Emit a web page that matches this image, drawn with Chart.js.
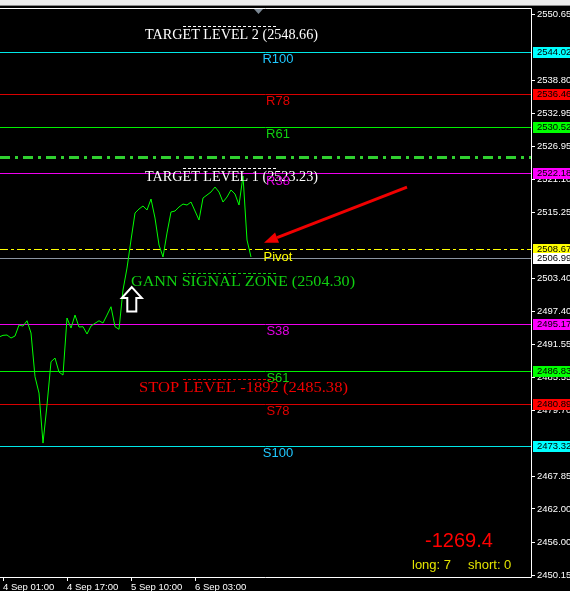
<!DOCTYPE html>
<html>
<head>
<meta charset="utf-8">
<script src="https://cdn.jsdelivr.net/npm/chart.js@4.4.1/dist/chart.umd.min.js"></script>
<style>
    html, body { margin: 0; padding: 0; background: #000; overflow: hidden; }
</style>
</head>
<body>
<canvas id="goldChart" width="570" height="591"></canvas>
<script>
// close price per H1 bar (bar 0 sits just left of the chart edge)
const prices = [
    2492.84, 2493.14, 2493.20, 2492.66, 2493.02, 2494.99, 2494.80, 2495.76,
    2493.56, 2485.72, 2482.79, 2473.82, 2480.64, 2488.41, 2489.07, 2486.56,
    2486.02, 2496.25, 2494.45, 2496.78, 2494.63, 2494.69, 2493.38, 2494.81,
    2495.30, 2495.76, 2495.35, 2496.78, 2498.27, 2494.69, 2494.22, 2501.27,
    2505.21, 2510.24, 2515.08, 2515.80, 2516.34, 2515.62, 2517.59, 2514.18,
    2509.34, 2507.19, 2511.49, 2515.26, 2515.44, 2516.16, 2516.69, 2516.51,
    2517.05, 2515.44, 2513.82, 2517.77, 2518.31, 2518.85, 2519.74, 2518.85,
    2517.05, 2517.95, 2519.21, 2518.49, 2516.51, 2521.72, 2510.24, 2507.19
];

const timeTicks = [1, 17, 33, 49];
const timeLabels = ['4 Sep 01:00', '4 Sep 17:00', '5 Sep 10:00', '6 Sep 03:00'];

const priceTicks = [2550.65, 2538.80, 2532.95, 2526.95, 2521.10, 2515.25, 2503.40,
    2497.40, 2491.55, 2485.55, 2479.70, 2467.85, 2462.00, 2456.00, 2450.15];

// gann levels
const levelNames = ['R100', 'R78', 'R61', 'R38', 'Pivot', '', 'S38', 'S61', 'S78', 'S100'];
const levelValues = [2544.02, 2536.46, 2530.52, 2522.18, 2508.67, 2506.99, 2495.17, 2486.83, 2480.89, 2473.32];

const zoneNames = ['TARGET LEVEL 2 (2548.66)', 'TARGET LEVEL 1 (2523.23)', 'GANN SIGNAL ZONE (2504.30)', 'STOP LEVEL -1892 (2485.38)'];
const zoneValues = [2548.66, 2523.23, 2504.30, 2485.38];

const signalLevel = 2525.18;
const profitText = '-1269.4';
const longCount = 7;
const shortCount = 0;

// arrows: [bar, price]
const upArrowAt = [33.2, 2501.8];
const redArrowFrom = [102, 2519.74];
const redArrowTo = [66.25, 2509.75];

// colours
const levelLineColors = ['#00e8e8', '#d80000', '#00f000', '#f000f0', '#ffff00', '#8a94a0', '#f000f0', '#00f000', '#d80000', '#00e8e8'];
const levelTextColors = ['#20c8ff', '#e00000', '#10d010', '#e000e0', '#ffff00', '', '#e000e0', '#10d010', '#e00000', '#20c8ff'];
const levelBoxColors = ['#00ffff', '#ff0000', '#00ff00', '#ff00ff', '#ffff00', '#ffffff', '#ff00ff', '#00ff00', '#ff0000', '#00ffff'];
const zoneColors = ['#ffffff', '#ffffff', '#10d010', '#f00000'];
const zoneTextX = [145, 145, 131, 139];
const zoneTextW = [173, 173, 224, 209];

const SANS = '"Liberation Sans", Arial, sans-serif';
const SERIF = '"Liberation Serif", "DejaVu Serif", serif';

const gannPlugin = {
    id: 'gann',
    beforeDraw(chart) {
        const c = chart.ctx;
        c.save();
        c.fillStyle = '#000';
        c.fillRect(0, 0, chart.width, chart.height);
        // window strip on top
        c.fillStyle = '#ececec';
        c.fillRect(0, 0, chart.width, 5);
        c.fillStyle = '#8c8c8c';
        c.fillRect(0, 5, chart.width, 1);
        c.restore();
    },
    beforeDatasetsDraw(chart) {
        const c = chart.ctx, a = chart.chartArea, ys = chart.scales.y;
        c.save();
        c.beginPath();
        c.rect(a.left, a.top, a.right - a.left, a.bottom - a.top);
        c.clip();

        // dash-dot signal line
        let y = Math.round(ys.getPixelForValue(signalLevel)) + 0.5;
        c.strokeStyle = '#30d030';
        c.lineWidth = 3;
        c.setLineDash([10, 5, 3, 5]);
        c.beginPath(); c.moveTo(a.left, y); c.lineTo(a.right, y); c.stroke();

        c.lineWidth = 1;
        levelValues.forEach((v, i) => {
            y = Math.round(ys.getPixelForValue(v)) + 0.5;
            c.strokeStyle = levelLineColors[i];
            c.setLineDash(i === 4 ? [8, 3, 3, 3] : []);
            c.beginPath(); c.moveTo(a.left, y); c.lineTo(a.right, y); c.stroke();
        });
        c.restore();
    },
    afterDatasetsDraw(chart) {
        const c = chart.ctx, a = chart.chartArea, ys = chart.scales.y, xs = chart.scales.x;
        c.save();

        // zone captions with dotted marker line
        zoneValues.forEach((v, i) => {
            const y = Math.round(ys.getPixelForValue(v)) + 0.5;
            c.strokeStyle = zoneColors[i];
            c.lineWidth = 1;
            c.setLineDash([3, 2]);
            c.beginPath(); c.moveTo(183, y); c.lineTo(277, y); c.stroke();
            c.setLineDash([]);
            c.font = '15px ' + SERIF;
            c.fillStyle = zoneColors[i];
            c.textAlign = 'left';
            c.textBaseline = 'alphabetic';
            // stretch the caption to the width it has in the terminal font
            const k = zoneTextW[i] / c.measureText(zoneNames[i]).width;
            c.save();
            c.translate(zoneTextX[i], y + 12.5);
            c.scale(k, 1);
            c.fillText(zoneNames[i], 0, 0);
            c.restore();
        });

        // level names
        c.font = '13px ' + SANS;
        c.textAlign = 'center';
        c.textBaseline = 'middle';
        levelValues.forEach((v, i) => {
            if (!levelNames[i]) return;
            const y = ys.getPixelForValue(v);
            c.fillStyle = levelTextColors[i];
            c.fillText(levelNames[i], 278, y + (i === 4 ? 8.5 : 7.5));
        });

        // white up arrow
        const ux = xs.getPixelForValue(upArrowAt[0]);
        const uy = ys.getPixelForValue(upArrowAt[1]);
        c.beginPath();
        c.moveTo(ux, uy);
        c.lineTo(ux + 10, uy + 11);
        c.lineTo(ux + 4.5, uy + 11);
        c.lineTo(ux + 4.5, uy + 24.5);
        c.lineTo(ux - 4.5, uy + 24.5);
        c.lineTo(ux - 4.5, uy + 11);
        c.lineTo(ux - 10, uy + 11);
        c.closePath();
        c.fillStyle = '#000';
        c.fill();
        c.strokeStyle = '#ffffff';
        c.lineWidth = 2;
        c.stroke();

        // red pointer arrow
        const x1 = xs.getPixelForValue(redArrowFrom[0]), y1 = ys.getPixelForValue(redArrowFrom[1]);
        const x2 = xs.getPixelForValue(redArrowTo[0]), y2 = ys.getPixelForValue(redArrowTo[1]);
        const ang = Math.atan2(y2 - y1, x2 - x1);
        const hx = x2 - 14 * Math.cos(ang), hy = y2 - 14 * Math.sin(ang);
        c.strokeStyle = '#f00000';
        c.fillStyle = '#f00000';
        c.lineWidth = 3;
        c.beginPath(); c.moveTo(x1, y1); c.lineTo(hx, hy); c.stroke();
        c.beginPath();
        c.moveTo(x2, y2);
        c.lineTo(hx + 5.5 * Math.sin(ang), hy - 5.5 * Math.cos(ang));
        c.lineTo(hx - 5.5 * Math.sin(ang), hy + 5.5 * Math.cos(ang));
        c.closePath();
        c.fill();

        c.restore();
    },
    afterDraw(chart) {
        const c = chart.ctx, a = chart.chartArea, ys = chart.scales.y;
        c.save();

        // frame
        c.strokeStyle = '#ffffff';
        c.lineWidth = 1;
        c.beginPath();
        c.moveTo(a.left, a.top + 0.5); c.lineTo(a.right + 0.5, a.top + 0.5);
        c.lineTo(a.right + 0.5, a.bottom + 0.5); c.lineTo(a.left, a.bottom + 0.5);
        c.stroke();

        // small shift marker at top
        c.fillStyle = '#7c8894';
        c.beginPath(); c.moveTo(254, a.top + 1); c.lineTo(263, a.top + 1); c.lineTo(258.5, a.top + 6); c.closePath(); c.fill();

        // price boxes on the axis
        c.font = '9.5px ' + SANS;
        c.textAlign = 'left';
        c.textBaseline = 'middle';
        levelValues.forEach((v, i) => {
            const y = Math.round(ys.getPixelForValue(v));
            c.fillStyle = levelBoxColors[i];
            c.fillRect(a.right + 2, y - 5, chart.width - a.right - 2, 11);
            c.fillStyle = '#000';
            c.fillText(v.toFixed(2), a.right + 6, y + 0.5);
        });

        // account info
        c.font = '20px ' + SANS;
        c.fillStyle = '#ff0000';
        c.fillText(profitText, 425, 541);
        c.font = '13px ' + SANS;
        c.fillStyle = '#e4e400';
        c.fillText('long: ' + longCount, 412, 565);
        c.fillText('short: ' + shortCount, 468, 565);
        c.restore();
    }
};

function createGannChart() {
    var ctx = document.getElementById('goldChart').getContext('2d');

    new Chart(ctx, {
        type: 'line',
        data: {
            datasets: [{
                data: prices.map((p, i) => ({ x: i, y: p })),
                borderColor: '#00ff00',
                borderWidth: 1,
                pointRadius: 0,
                tension: 0
            }]
        },
        options: {
            responsive: false,
            animation: false,
            devicePixelRatio: 1,
            layout: { padding: { top: 8, left: 0, right: 0, bottom: 0 } },
            plugins: { legend: { display: false }, tooltip: { enabled: false } },
            scales: {
                x: {
                    type: 'linear',
                    min: 0.25,
                    max: 133,
                    afterBuildTicks: s => { s.ticks = timeTicks.map(v => ({ value: v })); },
                    afterFit: s => { s.height = 14; },
                    grid: { drawOnChartArea: false, color: '#ffffff', tickLength: 4 },
                    border: { display: false },
                    ticks: {
                        color: '#ffffff',
                        font: { family: SANS, size: 9.5 },
                        align: 'start',
                        maxRotation: 0,
                        autoSkip: false,
                        padding: 1,
                        callback: v => timeLabels[timeTicks.indexOf(v)]
                    }
                },
                y: {
                    position: 'right',
                    min: 2449.8,
                    max: 2551.85,
                    afterBuildTicks: s => { s.ticks = priceTicks.map(v => ({ value: v })); },
                    afterFit: s => { s.width = 39; },
                    grid: { drawOnChartArea: false, color: '#ffffff', tickLength: 4 },
                    border: { display: false },
                    ticks: {
                        color: '#ffffff',
                        font: { family: SANS, size: 9.5 },
                        padding: 2,
                        callback: v => v.toFixed(2)
                    }
                }
            }
        },
        plugins: [gannPlugin]
    });
}

createGannChart();
</script>
</body>
</html>
